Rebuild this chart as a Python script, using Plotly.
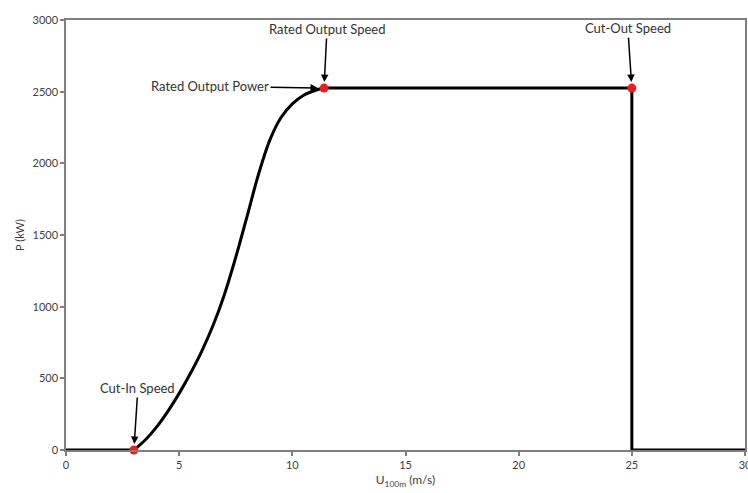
import plotly.graph_objects as go

# Power curve data (wind speed m/s, power kW)
curve_speed = [3, 3.5, 4, 4.5, 5, 5.5, 6, 6.5, 7, 7.5, 8, 8.5, 9, 9.5, 10, 10.5, 11, 11.4]
curve_power = [0, 70, 160, 270, 395, 535, 690, 870, 1085, 1345, 1630, 1920, 2160, 2320, 2415, 2475, 2508, 2525]

flat_speed = [0, 3]
flat_power = [0, 0]

rated_speed = 11.4
rated_power = 2525
cutout_speed = 25
max_speed = 30

upper_speed = [rated_speed, cutout_speed, cutout_speed, max_speed]
upper_power = [rated_power, rated_power, 0, 0]

marker_speed = [3, rated_speed, cutout_speed]
marker_power = [0, rated_power, rated_power]

x_ticks = [0, 5, 10, 15, 20, 25, 30]
y_ticks = [0, 500, 1000, 1500, 2000, 2500, 3000]

FONT = "Lato"
fig = go.Figure()
line = dict(color="black", width=3)
fig.add_trace(go.Scatter(x=flat_speed, y=flat_power, mode="lines", line=line, cliponaxis=False))
fig.add_trace(go.Scatter(x=curve_speed, y=curve_power, mode="lines",
                         line=dict(color="black", width=3, shape="spline", smoothing=1.0), cliponaxis=False))
fig.add_trace(go.Scatter(x=upper_speed, y=upper_power, mode="lines", line=line, cliponaxis=False))
fig.add_trace(go.Scatter(x=marker_speed, y=marker_power, mode="markers",
                         marker=dict(color="#ee1c1c", size=9), cliponaxis=False))

ann_font = dict(family=FONT, size=13, color="#333333")
arrow = dict(showarrow=True, arrowhead=2, arrowsize=1, arrowwidth=1.5, arrowcolor="black",
             standoff=6, font=ann_font)
fig.add_annotation(x=3, y=0, text="Cut-In Speed", ax=4, ay=-62, **arrow)
fig.add_annotation(x=rated_speed, y=rated_power, text="Rated Output Speed", ax=3, ay=-59, **arrow)
fig.add_annotation(x=cutout_speed, y=rated_power, text="Cut-Out Speed", ax=-4, ay=-60, **arrow)
fig.add_annotation(x=rated_speed, y=rated_power, text="Rated Output Power", ax=-114, ay=-2, **arrow)

axis_common = dict(showline=True, linecolor="#7f7f7f", linewidth=1.5, mirror=True,
                   ticks="outside", ticklen=4, tickcolor="#7f7f7f", tickwidth=1.5,
                   showgrid=False, zeroline=False, ticklabeloverflow="allow", automargin=False,
                   tickfont=dict(family=FONT, size=11, color="#404040"))
fig.update_xaxes(range=[0, 30], tickvals=x_ticks, **axis_common,
                 title=dict(text="U<sub>100m</sub> (m/s)", font=dict(family=FONT, size=12, color="#404040"), standoff=6))
fig.update_yaxes(range=[0, 3000], tickvals=y_ticks, **axis_common,
                 title=dict(text="P (kW)", font=dict(family=FONT, size=11, color="#404040"), standoff=6))

fig.update_layout(width=748, height=493, margin=dict(l=66, r=3, t=20, b=43),
                  paper_bgcolor="white", plot_bgcolor="white", showlegend=False)

fig.write_html("out.html")
